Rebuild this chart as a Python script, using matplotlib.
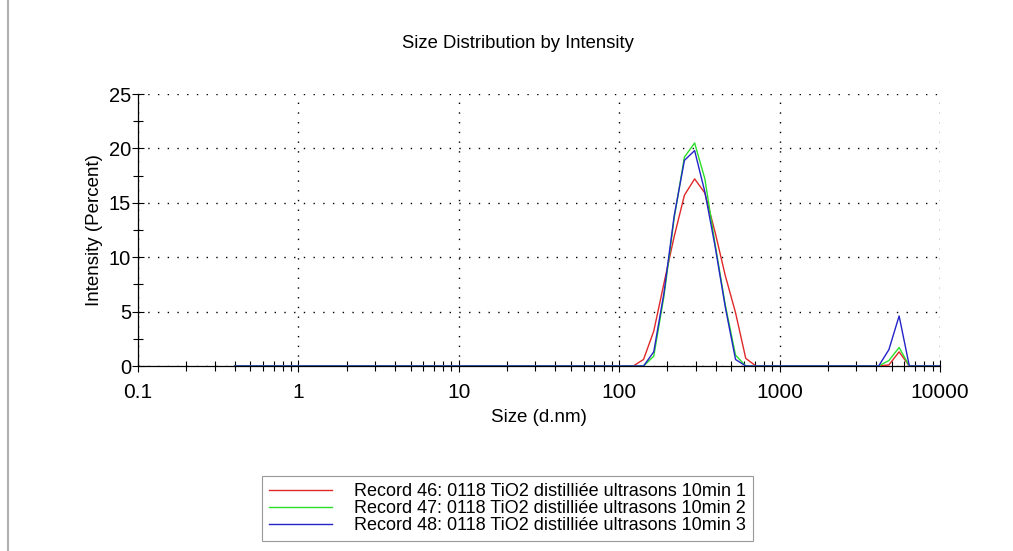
import matplotlib
matplotlib.use("Agg")
import matplotlib.pyplot as plt
from matplotlib.lines import Line2D
from matplotlib.ticker import LogLocator, NullFormatter, FixedLocator, MultipleLocator

plt.rcParams['font.family'] = ['Liberation Sans', 'DejaVu Sans']

sizes = [0.4, 0.4632, 0.5365, 0.6213, 0.7195, 0.8332, 0.9649, 1.117, 1.294, 1.499,
         1.736, 2.010, 2.328, 2.696, 3.122, 3.615, 4.187, 4.849, 5.615, 6.503,
         7.531, 8.721, 10.10, 11.70, 13.54, 15.69, 18.17, 21.04, 24.36, 28.21,
         32.67, 37.84, 43.82, 50.75, 58.77, 68.06, 78.82, 91.28, 105.7, 122.4,
         141.8, 164.2, 190.1, 220.2, 255.0, 295.3, 342.0, 396.1, 458.7, 531.2,
         615.1, 712.4, 825.0, 955.4, 1106, 1281, 1484, 1718, 1990, 2305,
         2669, 3091, 3580, 4145, 4801, 5560, 6439, 7456, 8635, 10000]

rec46 = [0]*40 + [0.6, 3.2, 7.6, 11.9, 15.7, 17.2, 15.9, 12.3, 8.3, 4.9, 0.7] + [0]*13 + [0.1, 1.3] + [0]*4
rec47 = [0]*40 + [0.0, 0.9, 6.4, 13.6, 19.2, 20.5, 17.2, 11.2, 5.6, 1.0, 0.0] + [0]*13 + [0.5, 1.7] + [0]*4
rec48 = [0]*40 + [0.0, 1.3, 6.7, 13.8, 18.9, 19.8, 16.0, 11.0, 5.4, 0.6, 0.0] + [0]*13 + [1.5, 4.6] + [0]*4

labels = ["Record 46: 0118 TiO2 distilliée ultrasons 10min 1",
          "Record 47: 0118 TiO2 distilliée ultrasons 10min 2",
          "Record 48: 0118 TiO2 distilliée ultrasons 10min 3"]
colors = ['#e02828', '#28e028', '#2323c8']

W, H = 1013, 551
fig = plt.figure(figsize=(W/100, H/100), dpi=100)
ax = fig.add_axes([138/W, 1-366/H, (940-138)/W, (366-94)/H])

for y, c, lab in zip([rec46, rec47, rec48], colors, labels):
    ax.plot(sizes, y, color=c, lw=1.0, label=lab, zorder=3)

ax.set_xscale('log')
ax.set_xlim(0.1, 10000)
ax.set_ylim(0, 25)
ax.xaxis.set_major_locator(FixedLocator([0.1, 1, 10, 100, 1000, 10000]))
ax.set_xticklabels(['0.1', '1', '10', '100', '1000', '10000'])
ax.xaxis.set_minor_locator(LogLocator(base=10, subs=range(2, 10)))
ax.xaxis.set_minor_formatter(NullFormatter())
ax.yaxis.set_major_locator(MultipleLocator(5))
ax.yaxis.set_minor_locator(MultipleLocator(2.5))

ax.tick_params(axis='both', which='both', direction='inout', color='black', width=0.8)
ax.tick_params(axis='both', which='major', length=8)
ax.tick_params(axis='x', which='major', labelsize=15, pad=8)
ax.tick_params(axis='y', which='major', labelsize=14.5, pad=1)
ax.tick_params(axis='both', which='minor', length=7)

for s in ['top', 'right']:
    ax.spines[s].set_visible(False)
for s in ['left', 'bottom']:
    ax.spines[s].set_linewidth(0.9)
    ax.spines[s].set_color('black')

ax.grid(True, which='major', color='black', linestyle=(0, (1, 6)), linewidth=1.0)
ax.set_axisbelow(False)

ax.set_xlabel('Size (d.nm)', fontsize=13.5, labelpad=5)
ax.set_ylabel('Intensity (Percent)', fontsize=13.5, labelpad=4)

fig.text(518/W, 1-43/H, 'Size Distribution by Intensity', ha='center', va='center', fontsize=13.3)

leg = fig.legend(loc='upper left', bbox_to_anchor=(262/W, 1-476/H), fontsize=13,
                 frameon=True, fancybox=False, edgecolor='#808080', handlelength=3.5,
                 handletextpad=1.2, borderpad=0.4, labelspacing=0.0, borderaxespad=0)
leg.get_frame().set_linewidth(0.8)

fig.add_artist(Line2D([7.5/W, 7.5/W], [0, 1], color='#b0b0b0', lw=1.5, transform=fig.transFigure))

fig.savefig('out.png', dpi=100)
